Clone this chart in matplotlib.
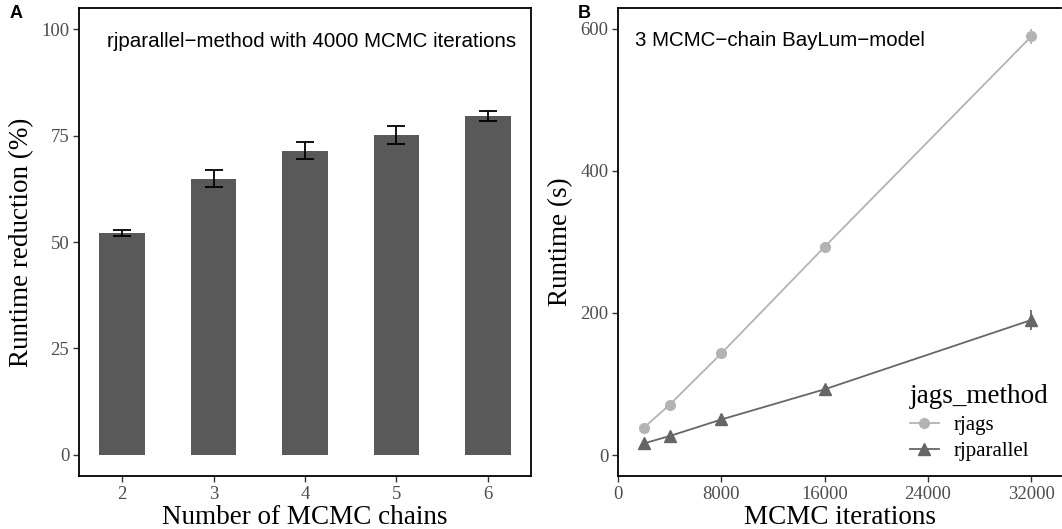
import matplotlib
matplotlib.use("Agg")
import matplotlib.pyplot as plt
from matplotlib.lines import Line2D

# Panel A data
chains = [2, 3, 4, 5, 6]
reduction = [52.1, 64.9, 71.5, 75.1, 79.6]
reduction_err = [0.8, 2.0, 1.95, 2.05, 1.2]

# Panel B data
iterations = [2000, 4000, 8000, 16000, 32000]
rjags_time = [38.5, 70.8, 143, 293, 589]
rjags_err = [4, 3, 4, 5, 10]
rjparallel_time = [16.4, 26.7, 50, 92.5, 190]
rjparallel_err = [2, 2, 3, 4, 14]

serif = "Liberation Serif"
sans = "Liberation Sans"
tick_col = "#4D4D4D"

fig = plt.figure(figsize=(10.62, 5.29), dpi=100)
W, H = 1062, 529

def box(l, t, r, b):
    return [l / W, 1 - b / H, (r - l) / W, (b - t) / H]

def style(ax):
    for s in ax.spines.values():
        s.set_linewidth(1.3)
        s.set_color("black")
    ax.tick_params(direction="out", length=4, width=1, color="#333333",
                   labelsize=13.5, labelcolor=tick_col, pad=3)
    for lab in ax.get_xticklabels() + ax.get_yticklabels():
        lab.set_fontfamily(serif)

# ---- A ----
axA = fig.add_axes(box(79, 8, 531, 476))
axA.bar(chains, reduction, width=0.5, color="#595959")
axA.errorbar(chains, reduction, yerr=reduction_err, fmt="none", ecolor="black",
             elinewidth=1.3, capsize=6.7, capthick=1.3)
axA.set_xlim(1.53, 6.47)
axA.set_ylim(-5, 105)
axA.set_xticks(chains)
axA.set_yticks([0, 25, 50, 75, 100])
style(axA)
axA.set_xlabel("Number of MCMC chains", fontfamily=serif, fontsize=19.5, labelpad=2)
axA.set_ylabel("Runtime reduction (%)", fontfamily=serif, fontsize=19.5, labelpad=5)
axA.text(0.062, 0.917, "rjparallel\u2212method with 4000 MCMC iterations",
         transform=axA.transAxes, fontfamily=sans, fontsize=14.8, va="baseline", ha="left")

# ---- B ----
axB = fig.add_axes(box(618, 8, 1061, 476))
c_rjags = "#B3B3B3"
c_par = "#666666"
axB.errorbar(iterations, rjags_time, yerr=rjags_err, color=c_rjags, marker="o",
             markersize=7, linewidth=1.3, elinewidth=1.3, capsize=0)
axB.errorbar(iterations, rjparallel_time, yerr=rjparallel_err, color=c_par, marker="^",
             markersize=9, linewidth=1.3, elinewidth=1.3, capsize=0)
axB.set_xlim(0, 34300)
axB.set_ylim(-29.5, 629)
axB.set_xticks([0, 8000, 16000, 24000, 32000])
axB.set_yticks([0, 200, 400, 600])
style(axB)
axB.spines["right"].set_visible(False)
axB.set_xlabel("MCMC iterations", fontfamily=serif, fontsize=19.5, labelpad=2)
axB.set_ylabel("Runtime (s)", fontfamily=serif, fontsize=19.5, labelpad=5)
axB.text(0.038, 0.919, "3 MCMC\u2212chain BayLum\u2212model",
         transform=axB.transAxes, fontfamily=sans, fontsize=14.8, va="baseline", ha="left")

handles = [Line2D([], [], color=c_rjags, marker="o", markersize=7, linewidth=1.3),
           Line2D([], [], color=c_par, marker="^", markersize=9, linewidth=1.3)]
leg = axB.legend(handles, ["rjags", "rjparallel"], title="jags_method",
                 loc="lower right", bbox_to_anchor=(1.0, 0.005), frameon=False,
                 prop={"family": serif, "size": 15}, handlelength=1.4,
                 handletextpad=0.7, labelspacing=0.3, borderaxespad=0.2)
leg.get_title().set_fontfamily(serif)
leg.get_title().set_fontsize(19.5)
leg._legend_box.align = "left"

fig.text(10 / W, 1 - 14 / H, "A", fontfamily=sans, fontweight="bold", fontsize=13, va="center")
fig.text(578 / W, 1 - 14 / H, "B", fontfamily=sans, fontweight="bold", fontsize=13, va="center")

fig.savefig("out.png", dpi=100)
